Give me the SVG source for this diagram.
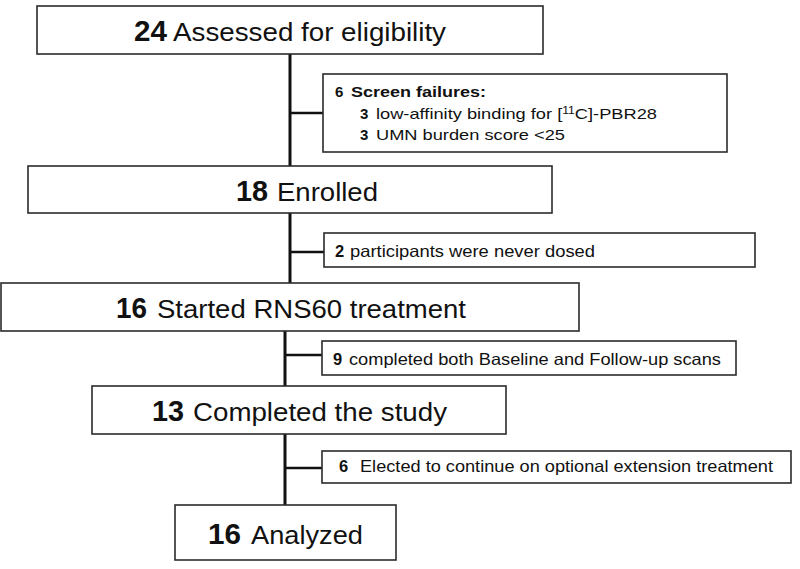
<svg xmlns="http://www.w3.org/2000/svg" width="800" height="569" viewBox="0 0 800 569">
<style>
.box{fill:#fff;stroke:#2b2b2b;stroke-width:1.6}
.ln{stroke:#111;stroke-width:3;fill:none}
.st{stroke:#111;stroke-width:2.4;fill:none}
text{font-family:"Liberation Sans",Arial,sans-serif;fill:#111}
.bn{font-size:29px;font-weight:bold}
.bl{font-size:26px}
.sn{font-size:16.5px;font-weight:bold}
.sl{font-size:16.5px}
.fn{font-size:15px;font-weight:bold}
.fl{font-size:15px}
</style>
<rect width="800" height="569" fill="#fff"/>
<g id="connectors">
<line class="ln" x1="290" y1="54" x2="290" y2="166"/>
<line class="ln" x1="290" y1="213" x2="290" y2="283"/>
<line class="ln" x1="285" y1="331" x2="285" y2="386"/>
<line class="ln" x1="285" y1="434" x2="285" y2="505"/>
<line class="st" x1="290" y1="113" x2="323" y2="113"/>
<line class="st" x1="290" y1="252" x2="324" y2="252"/>
<line class="st" x1="285" y1="355" x2="322" y2="355"/>
<line class="st" x1="285" y1="468" x2="322" y2="468"/>
</g>
<g id="assessed">
<rect class="box" x="37" y="6" width="506" height="48"/>
<text class="bn" x="134" y="41" textLength="33" lengthAdjust="spacingAndGlyphs">24</text>
<text class="bl" x="173" y="41" textLength="273" lengthAdjust="spacingAndGlyphs">Assessed for eligibility</text>
</g>
<g id="screen-failures">
<rect class="box" x="323" y="74" width="404" height="78"/>
<text class="fn" x="335" y="97">6</text>
<text class="fn" x="351" y="97" textLength="135" lengthAdjust="spacingAndGlyphs">Screen failures:</text>
<text class="fn" x="360" y="119">3</text>
<text class="fl" x="376" y="119" textLength="281" lengthAdjust="spacingAndGlyphs">low-affinity binding for [<tspan font-size="10" dy="-5">11</tspan><tspan dy="5">C]-PBR28</tspan></text>
<text class="fn" x="360" y="140">3</text>
<text class="fl" x="376" y="140" textLength="189" lengthAdjust="spacingAndGlyphs">UMN burden score &lt;25</text>
</g>
<g id="enrolled">
<rect class="box" x="28" y="166" width="524" height="47"/>
<text class="bn" x="236" y="201" textLength="32" lengthAdjust="spacingAndGlyphs">18</text>
<text class="bl" x="277" y="201" textLength="101" lengthAdjust="spacingAndGlyphs">Enrolled</text>
</g>
<g id="never-dosed">
<rect class="box" x="324" y="233" width="431" height="34"/>
<text class="sn" x="335" y="257">2</text>
<text class="sl" x="350" y="257" textLength="245" lengthAdjust="spacingAndGlyphs">participants were never dosed</text>
</g>
<g id="started">
<rect class="box" x="1" y="283" width="578" height="48"/>
<text class="bn" x="116" y="318" textLength="31" lengthAdjust="spacingAndGlyphs">16</text>
<text class="bl" x="157" y="318" textLength="309" lengthAdjust="spacingAndGlyphs">Started RNS60 treatment</text>
</g>
<g id="scans">
<rect class="box" x="322" y="341" width="414" height="34"/>
<text class="sn" x="333" y="365">9</text>
<text class="sl" x="349" y="365" textLength="372" lengthAdjust="spacingAndGlyphs">completed both Baseline and Follow-up scans</text>
</g>
<g id="completed">
<rect class="box" x="92" y="386" width="414" height="48"/>
<text class="bn" x="152" y="421" textLength="32" lengthAdjust="spacingAndGlyphs">13</text>
<text class="bl" x="193" y="421" textLength="254" lengthAdjust="spacingAndGlyphs">Completed the study</text>
</g>
<g id="extension">
<rect class="box" x="322" y="451" width="469" height="32"/>
<text class="sn" x="339" y="472">6</text>
<text class="sl" x="360" y="472" textLength="413" lengthAdjust="spacingAndGlyphs">Elected to continue on optional extension treatment</text>
</g>
<g id="analyzed">
<rect class="box" x="175" y="505" width="221" height="55"/>
<text class="bn" x="208" y="544" textLength="33" lengthAdjust="spacingAndGlyphs">16</text>
<text class="bl" x="251" y="544" textLength="112" lengthAdjust="spacingAndGlyphs">Analyzed</text>
</g>
</svg>
